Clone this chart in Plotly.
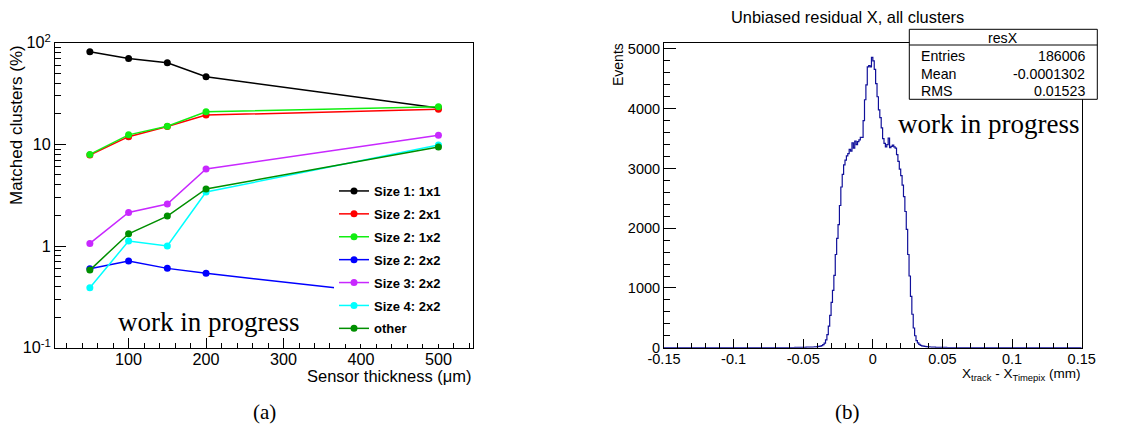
import numpy as np
import plotly.graph_objects as go

# ---------------- (a) cluster-size fractions vs sensor thickness ----------------
thickness_um = [50, 100, 150, 200, 500]

size1_1x1 = [81.5, 70.1, 63.6, 46.3, 22.8]
size2_2x1 = [7.86, 11.9, 15.0, 19.4, 22.1]
size2_1x2 = [7.97, 12.4, 15.1, 20.9, 23.5]
size2_2x2 = [0.598, 0.712, 0.603, 0.539, 0.30]
size3_2x2 = [1.06, 2.14, 2.59, 5.72, 12.3]
size4_2x2 = [0.389, 1.12, 1.00, 3.40, 9.85]
other_sz = [0.580, 1.32, 1.97, 3.64, 9.42]

series_names = ["Size 1: 1x1", "Size 2: 2x1", "Size 2: 1x2", "Size 2: 2x2",
                "Size 3: 2x2", "Size 4: 2x2", "other"]
series_values = [size1_1x1, size2_2x1, size2_1x2, size2_2x2, size3_2x2, size4_2x2, other_sz]
series_colors = ["#000000", "#ff0000", "#11ee11", "#0000ff", "#c828ff", "#00ffff", "#008f00"]

# ---------------- (b) unbiased residual X histogram ----------------
hist_min, hist_max, n_bins = -0.15, 0.15, 300
filled_first_bin = -60          # bin index (in units of 0.001 mm) of the first listed count
res_counts = [
    2, 3, 2, 3, 4, 3, 5, 4, 5, 6,
    6, 7, 8, 8, 9, 10, 11, 12, 14, 15,
    18, 22, 27, 35,
    50, 75, 130, 220, 360, 540, 760, 960, 1210, 1560,
    1830, 2060, 2380, 2690, 2900, 3060, 3140, 3210, 3250, 3320,
    3290, 3430, 3340, 3460, 3400, 3450, 3480, 3520, 3520, 3800,
    4150, 4400, 4700, 4720, 4700, 4860, 4800, 4660, 4420, 4200,
    3980, 3850, 3680, 3500, 3420, 3360, 3400, 3510, 3350, 3370,
    3390, 3360, 3340, 3230, 3120, 2990, 2880, 2720, 2530, 2280,
    1980, 1560, 1200, 860, 560, 330, 200, 120, 80, 55, 40,
    32, 26, 22, 18, 15, 13, 12, 10, 9, 8,
    7, 7, 6, 6, 5, 5, 4, 4, 3, 3,
    3, 2, 2, 2, 2,
]
stats_rows = [("Entries", "186006"), ("Mean", "-0.0001302"), ("RMS", "0.01523")]

bin_width = (hist_max - hist_min) / n_bins
edges = hist_min + bin_width * np.arange(n_bins + 1)
contents = np.zeros(n_bins)
start = int(round((filled_first_bin * 0.001 - hist_min) / bin_width))
contents[start:start + len(res_counts)] = res_counts

SANS = "Liberation Sans, Arial, Helvetica, sans-serif"
SERIF = "Liberation Serif, Times New Roman, serif"
W, H = 1141, 426


def px_x(p):
    return p / W


def px_y(p):
    return 1 - p / H


fig = go.Figure()

for name, vals, col in zip(series_names, series_values, series_colors):
    fig.add_trace(go.Scatter(
        x=thickness_um, y=vals, name=name, mode="lines+markers",
        line=dict(color=col, width=1.5),
        marker=dict(color=col, size=7, symbol="circle"),
        legendgroup=name,
        xaxis="x", yaxis="y",
    ))

step_x = np.append(edges[:-1], edges[-1])
step_y = np.append(contents, contents[-1])
fig.add_trace(go.Scatter(
    x=step_x, y=step_y, mode="lines", line_shape="hv",
    line=dict(color="#10109a", width=1.2),
    showlegend=False, xaxis="x2", yaxis="y2",
))

axis_common = dict(
    showline=True, linecolor="black", linewidth=1, mirror=True,
    ticks="inside", tickcolor="black", tickwidth=1,
    showgrid=False, zeroline=False, automargin=False,
)

minor_log = [m * 10.0 ** e for e in (-1, 0, 1) for m in range(2, 10)]

fig.update_layout(
    width=W, height=H,
    margin=dict(l=0, r=0, t=0, b=0),
    paper_bgcolor="white", plot_bgcolor="white",
    font=dict(family=SANS, color="black"),
    xaxis=dict(
        domain=[px_x(55), px_x(473.3)], anchor="y",
        range=[5, 545], tickmode="array", tickvals=[100, 200, 300, 400, 500],
        ticklen=10, tickfont=dict(size=16.2, family=SANS), ticklabelstandoff=-3,
        minor=dict(ticks="inside", ticklen=5, dtick=20, tick0=0, tickcolor="black", showgrid=False),
        **axis_common,
    ),
    yaxis=dict(
        domain=[px_y(347.7), px_y(42.7)], anchor="x",
        type="log", range=[-1, 2],
        tickmode="array", tickvals=[0.1, 1, 10, 100],
        ticktext=["10<sup>-1</sup>", "1", "10", "10<sup>2</sup>"],
        ticklen=11, tickfont=dict(size=16.2, family=SANS),
        minor=dict(ticks="inside", ticklen=6, tickmode="array", tickvals=minor_log,
                   tickcolor="black", showgrid=False),
        **axis_common,
    ),
    xaxis2=dict(
        domain=[px_x(664), px_x(1081.7)], anchor="y2",
        range=[hist_min, hist_max], tickmode="array",
        tickvals=[-0.15, -0.1, -0.05, 0, 0.05, 0.1, 0.15],
        ticktext=["-0.15", "-0.1", "-0.05", "0", "0.05", "0.1", "0.15"],
        ticklen=9, tickfont=dict(size=14.5, family=SANS), ticklabelstandoff=-2,
        minor=dict(ticks="inside", ticklen=4.5, dtick=0.01, tick0=0, tickcolor="black", showgrid=False),
        **axis_common,
    ),
    yaxis2=dict(
        domain=[px_y(347.7), px_y(43)], anchor="x2",
        range=[0, 5100], tickmode="array", tickvals=[0, 1000, 2000, 3000, 4000, 5000],
        ticklen=12, tickfont=dict(size=14.5, family=SANS),
        minor=dict(ticks="inside", ticklen=6, dtick=200, tick0=0, tickcolor="black", showgrid=False),
        **axis_common,
    ),
    legend=dict(
        x=px_x(334), y=px_y(176), xanchor="left", yanchor="top",
        bgcolor="white", borderwidth=0,
        font=dict(family=SANS, size=13, color="black", weight="bold"),
        tracegroupgap=3, itemwidth=30,
    ),
)

ann = []


def text(x, y, s, size, family=SANS, xanchor="center", yanchor="middle", angle=0):
    ann.append(dict(
        x=px_x(x), y=px_y(y), xref="paper", yref="paper", text=s, showarrow=False,
        xanchor=xanchor, yanchor=yanchor, textangle=angle,
        font=dict(family=family, size=size, color="black"),
    ))


# panel (a) labels
text(16, 125, "Matched clusters (%)", 17, angle=-90)
text(473, 376, "Sensor thickness (\u03bcm)", 16.5, xanchor="right")
text(208, 322, "work in progress", 27, family=SERIF)
text(264, 412, "(a)", 21, family=SERIF)

# panel (b) labels
text(847, 17, "Unbiased residual X, all clusters", 16.4)
text(618, 65, "Events", 14, angle=-90)
text(1082, 374, "X<sub>track</sub> - X<sub>Timepix</sub> (mm)", 13.5, xanchor="right")
text(988, 124, "work in progress", 27, family=SERIF)
text(847, 412, "(b)", 21, family=SERIF)

# statistics box
box_l, box_r, box_t, box_b, head_b = 909.3, 1097.3, 29.3, 99.3, 45
shapes = [
    dict(type="rect", xref="paper", yref="paper",
         x0=px_x(box_l), x1=px_x(box_r), y0=px_y(box_b), y1=px_y(box_t),
         line=dict(color="black", width=1), fillcolor="white", layer="above"),
    dict(type="line", xref="paper", yref="paper",
         x0=px_x(box_l), x1=px_x(box_r), y0=px_y(head_b), y1=px_y(head_b),
         line=dict(color="black", width=1), layer="above"),
]
text((box_l + box_r) / 2, 38, "resX", 14.2)
for i, (lab, val) in enumerate(stats_rows):
    yy = 56 + i * 17.5
    text(919, yy, lab, 14.2, xanchor="left")
    text(1087, yy, val, 14.2, xanchor="right")

fig.update_layout(annotations=ann, shapes=shapes)

fig.write_html("out.html")
